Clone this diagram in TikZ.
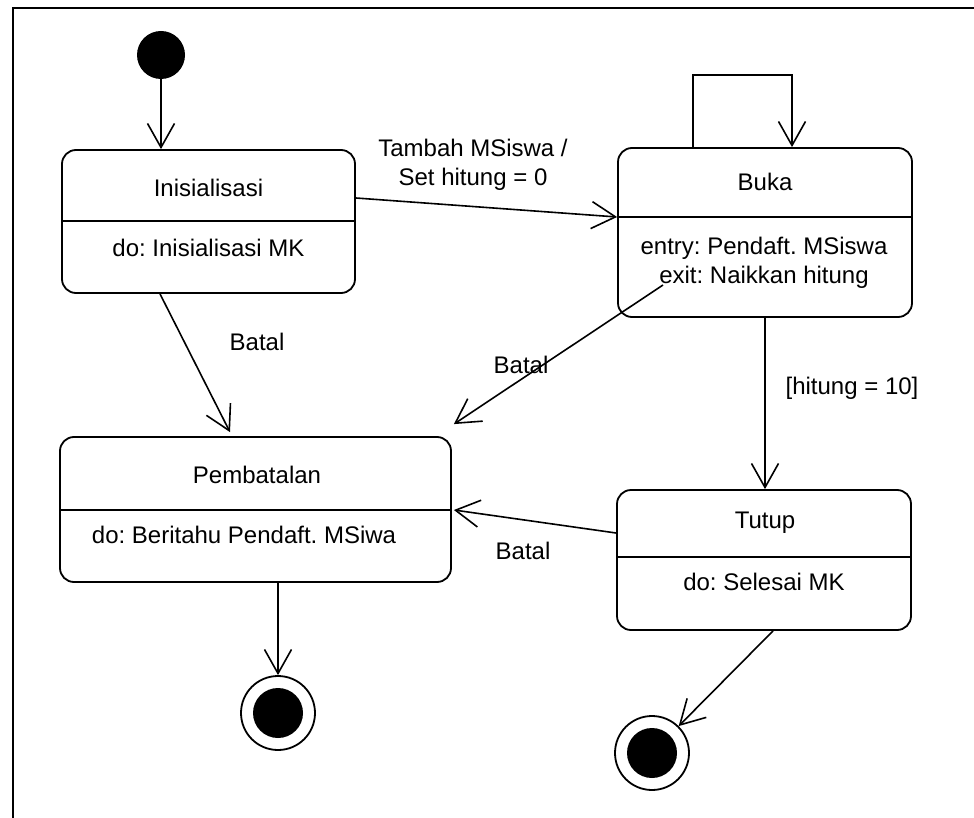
\documentclass[tikz,border=0pt]{standalone}
\usepackage{fontspec}
\setmainfont{Liberation Sans}
\usetikzlibrary{arrows.meta}
\frenchspacing
\begin{document}
\begin{tikzpicture}[x=0.5pt,y=-0.5pt,
  state/.style={draw,rounded corners=7pt,line width=0.9pt,inner sep=0pt},
  divider/.style={line width=0.9pt},
  txt/.style={inner sep=0pt,font=\fontsize{12}{14.5}\selectfont,align=center},
  conn/.style={line width=0.8pt,-{Straight Barb[length=12pt,width=13.5pt,line width=0.8pt]}},
  initial/.style={circle,fill=black,minimum size=24pt,inner sep=0pt},
  finalring/.style={circle,draw,line width=0.9pt,minimum size=37pt,inner sep=0pt},
  finaldot/.style={circle,fill=black,minimum size=25pt,inner sep=0pt}]

\useasboundingbox (0,0) rectangle (974,818);
\fill[white] (0,0) rectangle (974,818);

% frame
\draw[line width=1pt] (13,818) -- (13,8) -- (974,8);

% states
\node[state,minimum width=146.5pt,minimum height=71.5pt] (ini) at (208.5,221.5) {};
\node[state,minimum width=147pt,minimum height=84.5pt] (buka) at (765,232.5) {};
\node[state,minimum width=195.5pt,minimum height=72.5pt] (pemb) at (255.5,509.5) {};
\node[state,minimum width=147pt,minimum height=70pt] (tutup) at (764,560) {};

% compartment lines
\coordinate (iniDL) at (ini.west |- 0,221);   \coordinate (iniDR) at (ini.east |- 0,221);
\coordinate (bukaDL) at (buka.west |- 0,217); \coordinate (bukaDR) at (buka.east |- 0,217);
\coordinate (pembDL) at (pemb.west |- 0,510); \coordinate (pembDR) at (pemb.east |- 0,510);
\coordinate (tutupDL) at (tutup.west |- 0,557); \coordinate (tutupDR) at (tutup.east |- 0,557);
\draw[divider] (iniDL) -- (iniDR);
\draw[divider] (bukaDL) -- (bukaDR);
\draw[divider] (pembDL) -- (pembDR);
\draw[divider] (tutupDL) -- (tutupDR);

% state texts
\node[txt] (iniT) at (208.5,188) {Inisialisasi};
\node[txt] (iniB) at (208.5,248) {do: Inisialisasi MK};
\node[txt] (bukaT) at (765,182) {Buka};
\node[txt] (bukaB) at (764,262.5) {entry: Pendaft. MSiswa\\exit: Naikkan hitung};
\node[txt] (pembT) at (257,475) {Pembatalan};
\node[txt] (pembB) at (244,535) {do: Beritahu Pendaft. MSiwa};
\node[txt] (tutupT) at (765,523) {Tutup};
\node[txt] (tutupB) at (764,582) {do: Selesai MK};

% initial and final pseudostates
\node[initial] (init) at (161,55) {};
\node[finalring] (final1) at (278,713) {};
\node[finaldot] (final1in) at (final1) {};
\node[finalring] (final2) at (652,753) {};
\node[finaldot] (final2in) at (final2) {};

% transitions
\draw[conn] (init.south) -- (init.south |- ini.north);
\draw[conn] ([yshift=11.75pt]ini.east) -- (bukaDL);
\draw[conn] ([xshift=-36pt]buka.north) -- ++(0,36pt) -| ([xshift=13.5pt]buka.north);
\draw[conn] ([xshift=-24.25pt]ini.south) -- ([shift={(-12.75pt,2pt)}]pemb.north);
\draw[conn] ([shift={(-51pt,-26.25pt)}]buka.center) -- ([shift={(1pt,6pt)}]pemb.north east);
\draw[conn] (buka.south) -- (buka.south |- tutup.north);
\draw[conn] ([yshift=13.5pt]tutup.west) -- ([xshift=1pt]pembDR);
\draw[conn] (final1 |- pemb.south) -- (final1.north);
\draw[conn] ([xshift=4.5pt]tutup.south) -- (final2);

% transition labels
\node[txt] (lblTambah) at (473,164.5) {Tambah MSiswa /\\Set hitung = 0};
\node[txt] (lblBatal1) at (257,342) {Batal};
\node[txt] (lblBatal2) at (521,365) {Batal};
\node[txt] (lblHitung) at (852,388) {[hitung = 10]};
\node[txt] (lblBatal3) at (523,551) {Batal};

\end{tikzpicture}
\end{document}
